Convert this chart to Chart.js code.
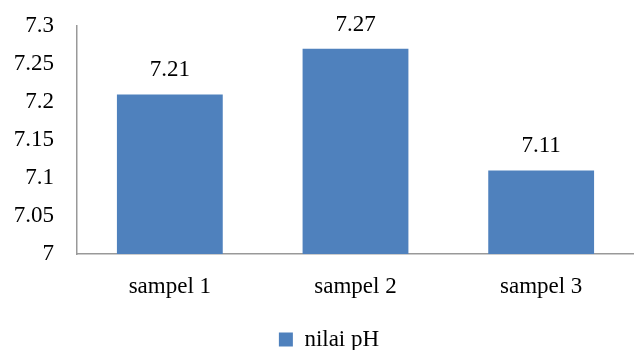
<!DOCTYPE html>
<html>
<head>
<meta charset="utf-8">
<script src="https://cdn.jsdelivr.net/npm/chart.js@4"></script>
<style>
  html, body { margin: 0; padding: 0; background: #fff; }
  #wrap { width: 634px; height: 350px; }
</style>
</head>
<body>
<div id="wrap"><canvas id="myChart"></canvas></div>
<script>
const labels = ["sampel 1", "sampel 2", "sampel 3"];
const phValues = [7.21, 7.27, 7.11];
const seriesName = "nilai pH";

const fontFamily = "'Liberation Serif', 'DejaVu Serif', serif";

// simple value labels above each bar
const valueLabels = {
  id: "valueLabels",
  afterLayout(chart) {
    // nudge the legend a bit to the right, like the original
    chart.legend.left += 12;
    chart.legend.right += 12;
  },
  afterDatasetsDraw(chart) {
    const ctx = chart.ctx;
    const meta = chart.getDatasetMeta(0);
    ctx.save();
    ctx.font = "23px " + fontFamily;
    ctx.fillStyle = "#000";
    ctx.textAlign = "center";
    ctx.textBaseline = "alphabetic";
    meta.data.forEach((bar, i) => {
      ctx.fillText(String(phValues[i]), bar.x, bar.y - 18);
    });
    ctx.restore();
  },
};

const data = {
  labels: labels,
  datasets: [
    {
      label: seriesName,
      backgroundColor: "#4F81BD",
      borderWidth: 0,
      data: phValues,
      categoryPercentage: 1,
      barPercentage: 0.57,
    },
  ],
};

const config = {
  type: "bar",
  data: data,
  plugins: [valueLabels],
  options: {
    responsive: true,
    maintainAspectRatio: false,
    animation: false,
    layout: { padding: { top: 26, left: 0, right: 0, bottom: -11 } },
    plugins: {
      tooltip: { enabled: false },
      legend: {
        position: "bottom",
        labels: {
          color: "#000",
          boxWidth: 14,
          boxHeight: 14,
          padding: 0,
          font: { family: fontFamily, size: 23 },
        },
      },
    },
    scales: {
      x: {
        grid: { drawOnChartArea: false, drawTicks: true, tickLength: 19, color: "transparent" },
        border: { color: "#999", width: 1.5 },
        ticks: {
          color: "#000",
          padding: 0,
          font: { family: fontFamily, size: 23 },
        },
        afterFit(scale) { scale.height = 74; },
      },
      y: {
        min: 7,
        max: 7.3,
        grid: { drawOnChartArea: false, drawTicks: true, tickLength: 23, color: "transparent" },
        border: { color: "#999", width: 1.5 },
        ticks: {
          stepSize: 0.05,
          color: "#000",
          padding: 0,
          font: { family: fontFamily, size: 23 },
          callback: (v) => String(Math.round(v * 100) / 100),
        },
        afterFit(scale) { scale.width = 77; },
      },
    },
  },
};

const myChart = new Chart(
  document.getElementById("myChart").getContext("2d"),
  config
);
</script>
</body>
</html>
